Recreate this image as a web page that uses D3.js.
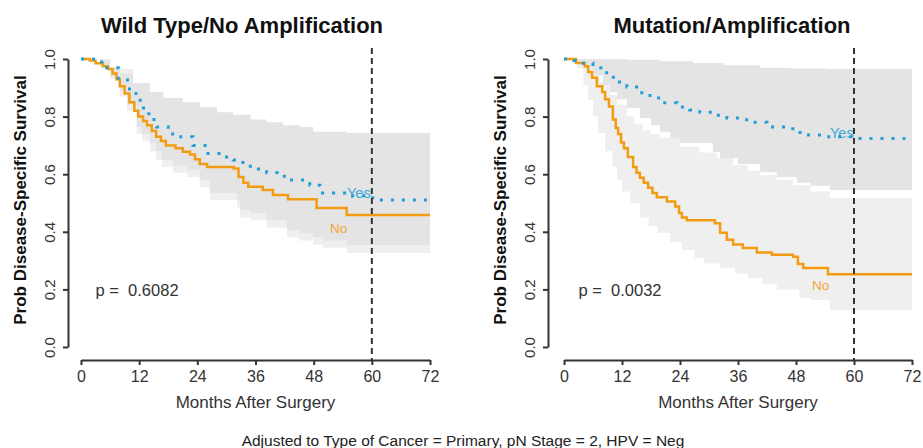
<!DOCTYPE html>
<html>
<head>
<meta charset="utf-8">
<script src="https://cdn.jsdelivr.net/npm/d3@7"></script>
<style>
  body { margin: 0; background: #fff; }
  svg { font-family: "Liberation Sans", Arial, sans-serif; }
</style>
</head>
<body>
<div id="chart"></div>
<script>
// Tick values
const monthTicks = [0, 12, 24, 36, 48, 60, 72];
const survTicks = [0, 0.2, 0.4, 0.6, 0.8, 1.0];
const landmark = 60;

// Wild Type / No Amplification  -- [month, survival]
const wtNo = [[0,1],[1.8,0.995],[3,0.985],[4.5,0.975],[5.6,0.965],[6.5,0.95],[7.3,0.93],[8,0.905],[9,0.88],[10,0.85],[11,0.82],[11.8,0.8],[12.8,0.785],[13.6,0.77],[14.6,0.75],[15.5,0.73],[16.5,0.715],[17.5,0.70],[19.5,0.69],[21,0.678],[22.5,0.668],[23.5,0.652],[24.5,0.635],[26,0.625],[31.5,0.62],[32.5,0.59],[33.5,0.57],[34.5,0.556],[37.5,0.545],[39.6,0.528],[42.7,0.513],[48.6,0.483],[54.8,0.458],[72,0.458]];
const wtYes = [[0,1],[3,0.99],[5.3,0.97],[7.7,0.927],[10,0.88],[12.2,0.83],[14,0.79],[15.6,0.764],[18,0.74],[19.8,0.73],[23.1,0.70],[26.2,0.672],[29,0.66],[31.4,0.649],[33.4,0.628],[36,0.618],[38.3,0.605],[40.5,0.593],[43,0.58],[47.2,0.562],[49.3,0.535],[54.8,0.525],[60.2,0.51],[72,0.51]];
const wtYesHi = [[0,1],[4,0.997],[6,0.97],[8,0.95],[10.7,0.917],[14.2,0.885],[17,0.865],[21,0.85],[24.5,0.833],[28,0.815],[31.4,0.806],[35,0.79],[38.3,0.78],[41.7,0.77],[45.2,0.764],[47.9,0.747],[54.8,0.743],[72,0.743]];
const wtYesLo = [[0,1],[4,0.98],[6,0.94],[8,0.89],[9.5,0.84],[11.5,0.764],[12.6,0.74],[14.2,0.708],[15.5,0.68],[16.7,0.65],[19,0.63],[21.9,0.615],[24.5,0.58],[26.6,0.535],[32.2,0.51],[32.8,0.476],[35,0.465],[38.3,0.44],[42.5,0.406],[45,0.395],[47.9,0.382],[50,0.37],[54.8,0.354],[72,0.354]];
const wtNoHi = [[0,1],[6,0.965],[10.7,0.9],[14.2,0.86],[21,0.82],[28,0.79],[35,0.76],[41.7,0.74],[47.9,0.72],[54.8,0.71],[72,0.71]];
const wtNoLo = [[0,1],[4,0.975],[6,0.93],[8,0.87],[9.5,0.82],[11.5,0.74],[12.6,0.715],[14.2,0.68],[15.5,0.65],[16.7,0.625],[19,0.605],[21.9,0.59],[24.5,0.555],[26.6,0.51],[32.2,0.485],[32.8,0.45],[35,0.44],[38.3,0.415],[42.5,0.38],[45,0.37],[47.9,0.355],[50,0.345],[54.8,0.326],[72,0.326]];

// Mutation / Amplification
const muNo = [[0,1],[2.5,0.986],[4.3,0.975],[5,0.955],[5.8,0.935],[6.8,0.905],[7.9,0.885],[8.5,0.86],[9.3,0.835],[10.1,0.79],[10.7,0.76],[11.2,0.74],[11.8,0.71],[12.4,0.69],[13.2,0.66],[14.3,0.625],[15,0.605],[15.7,0.588],[16.5,0.57],[17.4,0.553],[18.3,0.535],[19.2,0.52],[21.3,0.505],[23,0.488],[23.8,0.465],[24.4,0.45],[25.4,0.44],[31.2,0.43],[32.3,0.397],[33.7,0.372],[35,0.356],[37,0.344],[39.9,0.328],[43,0.32],[47.4,0.313],[48.4,0.288],[49.5,0.274],[54.6,0.253],[72,0.253]];
const muYes = [[0,1],[2,0.995],[4,0.985],[6,0.97],[8,0.952],[9.5,0.937],[11,0.92],[13,0.903],[15.5,0.883],[17.8,0.865],[20.5,0.848],[23.4,0.833],[26,0.823],[28.1,0.815],[31,0.805],[33.7,0.795],[37.8,0.78],[42,0.764],[46.1,0.758],[48,0.745],[49.5,0.736],[54.4,0.73],[59.8,0.724],[72,0.724]];
const muYesHi = [[0,1],[13,0.997],[20,0.992],[26.7,0.986],[33,0.978],[40.6,0.97],[47,0.967],[54.4,0.965],[72,0.965]];
const muYesLo = [[0,1],[2,0.99],[4,0.97],[6,0.944],[8,0.91],[9.5,0.885],[11,0.86],[13,0.83],[15.7,0.795],[18,0.77],[19.9,0.747],[22,0.725],[24,0.708],[30.8,0.677],[32.3,0.656],[36,0.635],[40.6,0.608],[44,0.59],[48.2,0.57],[51,0.56],[55,0.545],[72,0.545]];
const muNoHi = [[0,1],[3,0.99],[4.5,0.975],[6,0.955],[7.5,0.92],[9.5,0.875],[11,0.84],[13,0.80],[14.5,0.775],[16.3,0.753],[18,0.74],[19.9,0.726],[24,0.695],[28,0.675],[31.7,0.656],[35,0.632],[38,0.612],[40.6,0.597],[44,0.58],[47.4,0.562],[51,0.54],[55,0.517],[72,0.517]];
const muNoLo = [[0,1],[2.7,0.97],[4,0.91],[5,0.858],[6,0.80],[7,0.743],[8.5,0.68],[10,0.625],[11,0.58],[12,0.54],[13.7,0.5],[15.7,0.45],[17.5,0.42],[19.4,0.396],[22,0.365],[24.4,0.337],[27,0.31],[29,0.29],[32.3,0.275],[35.4,0.255],[38,0.24],[41,0.22],[44,0.2],[48.7,0.17],[51,0.163],[55,0.128],[72,0.128]];

const colNo = '#f39c12';
const colYes = '#1e9fd8';
const bandDark = '#e4e4e4';
const bandLight = '#efefef';
const ink = '#333';

const panels = [
  { title: 'Wild Type/No Amplification', p: '0.6082', left: 81, right: 430, axisX: 68, titleX: 242,
    no: wtNo, yes: wtYes, noLo: wtNoLo, noHi: wtNoHi, yesLo: wtYesLo, yesHi: wtYesHi,
    yesLab: [347, 198], noLab: [330, 233] },
  { title: 'Mutation/Amplification', p: '0.0032', left: 564, right: 912, axisX: 548, titleX: 732,
    no: muNo, yes: muYes, noLo: muNoLo, noHi: muNoHi, yesLo: muYesLo, yesHi: muYesHi,
    yesLab: [830, 138], noLab: [812, 290] }
];

const svg = d3.select('#chart').append('svg')
  .attr('width', 923).attr('height', 448);

const y = d3.scaleLinear().domain([0, 1]).range([347, 59]);
const axisY = 360;

panels.forEach(pn => {
  const x = d3.scaleLinear().domain([0, 72]).range([pn.left, pn.right]);
  const g = svg.append('g');

  const upLine = d3.line().x(d => x(d[0])).y(d => y(d[1])).curve(d3.curveStepAfter);
  const loLine = d3.line().x(d => x(d[0])).y(d => y(d[1])).curve(d3.curveStepBefore);
  const band = (hi, lo) => upLine(hi) + loLine(lo.slice().reverse()).replace(/^M/, 'L') + 'Z';

  g.append('path').attr('d', band(pn.noHi, pn.noLo)).attr('fill', bandLight);
  g.append('path').attr('d', band(pn.yesHi, pn.yesLo)).attr('fill', bandDark);

  g.append('path').datum(pn.no).attr('d', upLine)
    .attr('fill', 'none').attr('stroke', colNo).attr('stroke-width', 2.5);
  g.append('path').datum(pn.yes).attr('d', upLine)
    .attr('fill', 'none').attr('stroke', colYes).attr('stroke-width', 3)
    .attr('stroke-dasharray', '3,8');

  // landmark line
  g.append('line')
    .attr('x1', x(landmark)).attr('x2', x(landmark))
    .attr('y1', 48).attr('y2', axisY)
    .attr('stroke', ink).attr('stroke-width', 2).attr('stroke-dasharray', '6,4');

  // axes
  const ax = g.append('g').attr('transform', `translate(0,${axisY})`)
    .call(d3.axisBottom(x).tickValues(monthTicks).tickSize(5).tickSizeOuter(0).tickPadding(6));
  ax.selectAll('path,line').attr('stroke', ink).attr('stroke-width', 2);
  ax.selectAll('text').attr('font-size', 16).attr('fill', ink)
    .attr('font-family', '"Liberation Sans", Arial, sans-serif');

  const ay = g.append('g').attr('transform', `translate(${pn.axisX},0)`)
    .call(d3.axisLeft(y).tickValues(survTicks).tickSize(5).tickSizeOuter(0).tickFormat(d3.format('.1f')));
  ay.selectAll('path,line').attr('stroke', ink).attr('stroke-width', 2);
  ay.selectAll('text').attr('font-size', 15).attr('fill', ink)
    .attr('font-family', '"Liberation Sans", Arial, sans-serif')
    .attr('x', 0).attr('dy', 0).attr('text-anchor', 'middle')
    .attr('transform', 'translate(-13,0) rotate(-90)');

  // texts
  g.append('text').attr('x', pn.titleX).attr('y', 33).attr('text-anchor', 'middle')
    .attr('font-size', 22).attr('font-weight', 'bold').attr('fill', '#111').text(pn.title);
  g.append('text').attr('transform', `translate(${pn.axisX - 42},200) rotate(-90)`)
    .attr('text-anchor', 'middle').attr('font-size', 17).attr('font-weight', 'bold')
    .attr('fill', '#111').text('Prob Disease-Specific Survival');
  g.append('text').attr('x', (pn.left + pn.right) / 2).attr('y', 408).attr('text-anchor', 'middle')
    .attr('font-size', 17).attr('fill', ink).text('Months After Surgery');
  g.append('text').attr('x', x(3)).attr('y', 296).attr('font-size', 16.5)
    .attr('fill', ink).attr('xml:space', 'preserve').style('white-space', 'pre')
    .text('p =  ' + pn.p);
  g.append('text').attr('x', pn.yesLab[0]).attr('y', pn.yesLab[1])
    .attr('font-size', 14.5).attr('fill', colYes).attr('opacity', 0.85).text('Yes');
  g.append('text').attr('x', pn.noLab[0]).attr('y', pn.noLab[1])
    .attr('font-size', 13.5).attr('fill', colNo).attr('opacity', 0.85).text('No');
});

svg.append('text').attr('x', 463).attr('y', 446).attr('text-anchor', 'middle')
  .attr('font-size', 15.5).attr('fill', '#222')
  .text('Adjusted to Type of Cancer = Primary, pN Stage = 2, HPV = Neg');
</script>
</body>
</html>
